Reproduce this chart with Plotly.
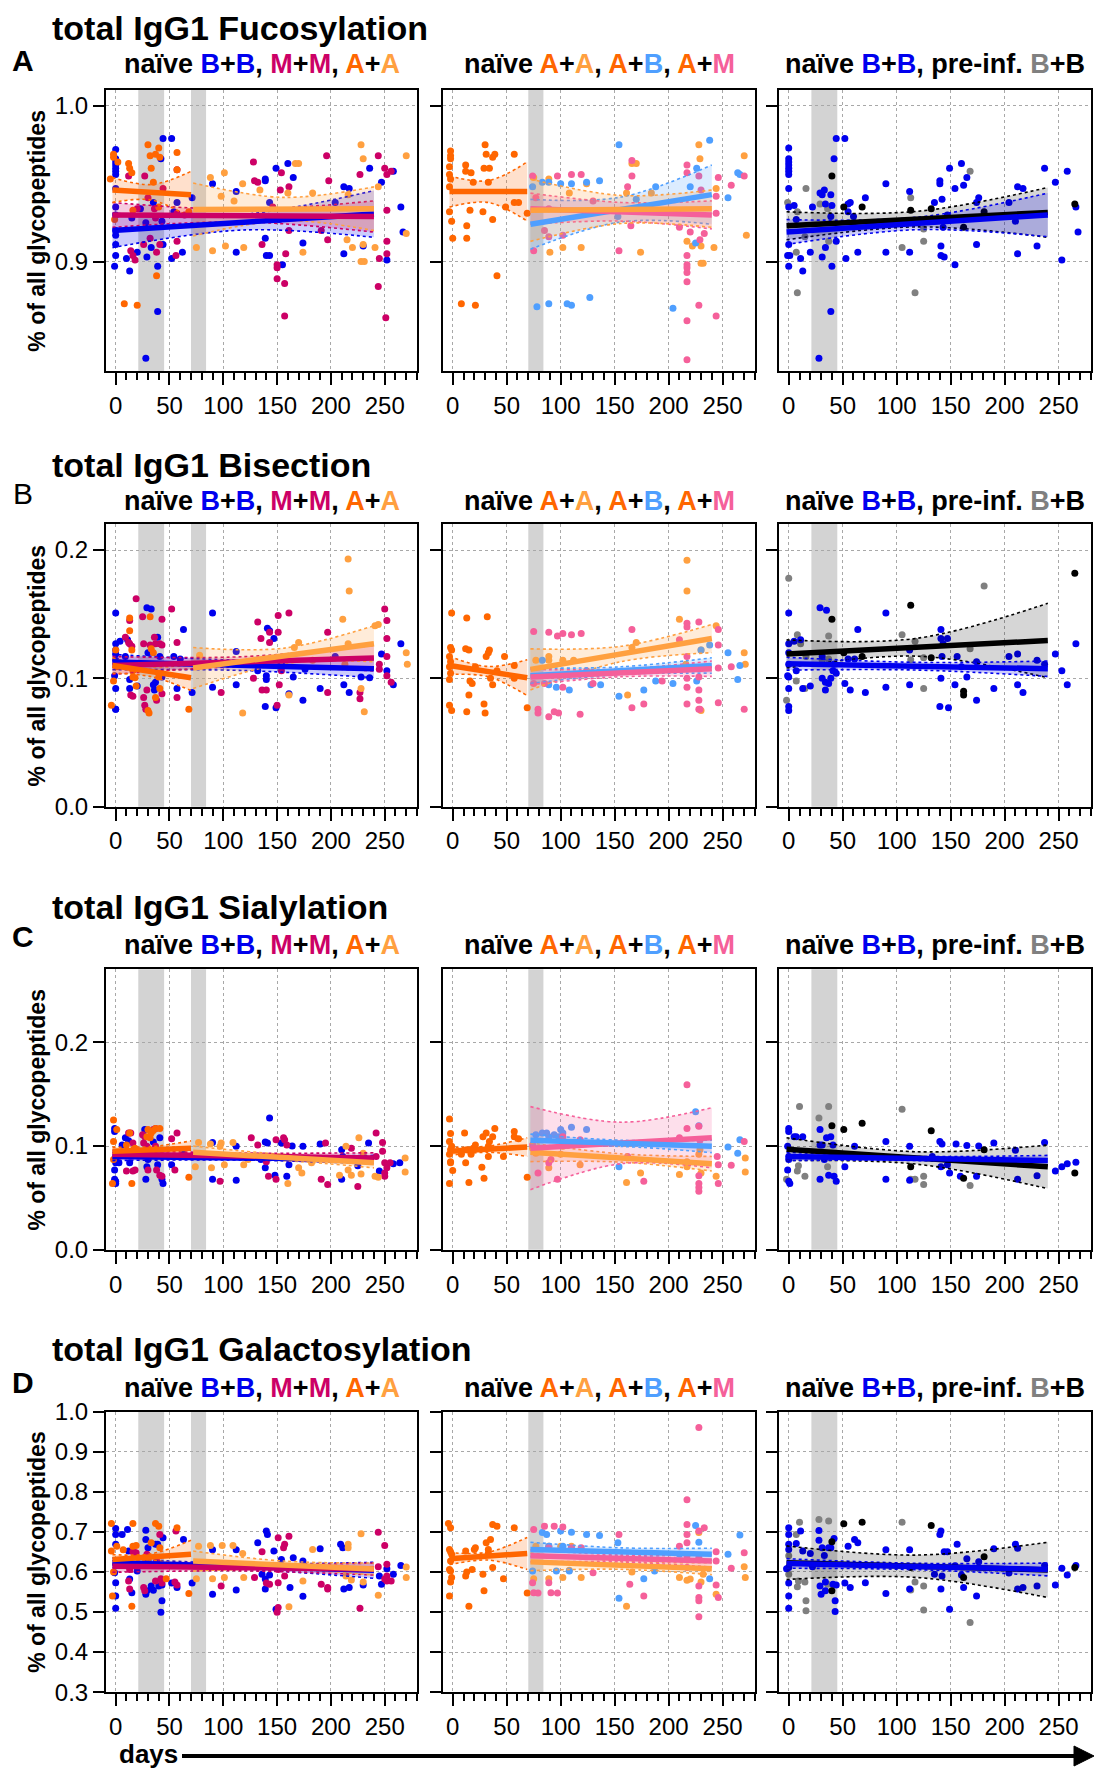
import plotly.graph_objects as go
from plotly.subplots import make_subplots

# ---------------- data: (day, fraction of all glycopeptides) ----------------
# Row A: Fucosylation
A1_BB = [(0,0.972),(0,0.966),(0,0.964),(0,0.962),(0,0.960),(0,0.958),(0,0.956),(0,0.947),(0,0.935),(0,0.930),(0,0.920),(0,0.917),(0,0.911),(0,0.904),(-1,0.897),(13,0.894),(10,0.902),(20,0.906),(28,0.925),(29,0.903),(33,0.909),(39,0.868),(28,0.838),(39,0.897),(42,0.966),(44,0.979),(44,0.911),(52,0.979),(52,0.902),(54,0.932),(62,0.906),(71,0.941),(57,0.938),(43,0.926),(35,0.938),(23,0.934),(15,0.928),(90,0.950),(112,0.945),(112,0.906),(139,0.952),(139,0.953),(143,0.938),(139,0.915),(140,0.904),(143,0.904),(149,0.960),(152,0.927),(155,0.898),(160,0.963),(165,0.954),(174,0.912),(204,0.938),(212,0.905),(212,0.948),(217,0.947),(230,0.910),(236,0.960),(247,0.951),(252,0.901),(258,0.958),(265,0.935),(267,0.919)]
A1_MM = [(12,0.955),(14,0.907),(16,0.904),(18,0.901),(20,0.934),(26,0.911),(27,0.955),(30,0.941),(32,0.915),(36,0.934),(37,0.928),(38,0.906),(41,0.911),(44,0.947),(57,0.913),(57,0.931),(56,0.904),(57,0.959),(64,0.930),(128,0.964),(129,0.952),(132,0.951),(136,0.911),(146,0.935),(150,0.898),(150,0.896),(150,0.889),(153,0.946),(154,0.957),(157,0.886),(157,0.865),(158,0.905),(161,0.948),(161,0.920),(191,0.920),(196,0.968),(198,0.952),(197,0.914),(227,0.956),(244,0.968),(244,0.884),(245,0.902),(252,0.913),(252,0.905),(252,0.933),(250,0.960),(252,0.956),(256,0.958),(251,0.864)]
A1_AA1 = [(-5,0.953),(-2,0.969),(-2,0.967),(-1,0.927),(2,0.964),(8,0.873),(12,0.963),(13,0.960),(15,0.957),(16,0.933),(20,0.872),(30,0.975),(32,0.968),(33,0.960),(35,0.951),(37,0.969),(38,0.891),(40,0.973),(41,0.967),(40,0.935),(57,0.970),(57,0.959),(68,0.932)]
A1_AA2 = [(75,0.909),(88,0.954),(90,0.907),(98,0.942),(101,0.957),(102,0.910),(110,0.939),(118,0.950),(119,0.909),(134,0.946),(160,0.944),(167,0.963),(170,0.963),(174,0.906),(183,0.944),(215,0.914),(220,0.909),(216,0.943),(228,0.975),(228,0.900),(231,0.900),(230,0.911),(230,0.966),(241,0.909),(244,0.948),(270,0.918),(270,0.968)]

A2_AA1 = [(-2,0.971),(-2,0.968),(-2,0.966),(-3,0.961),(-3,0.956),(-2,0.953),(-3,0.948),(-3,0.932),(-1,0.926),(0,0.915),(8,0.873),(12,0.962),(12,0.958),(13,0.923),(13,0.915),(16,0.933),(17,0.957),(19,0.951),(21,0.872),(28,0.932),(29,0.960),(30,0.975),(31,0.969),(33,0.951),(34,0.960),(37,0.927),(37,0.967),(39,0.969),(41,0.891),(49,0.935),(57,0.969),(57,0.938),(61,0.938),(69,0.931)]
A2_AA2 = [(75,0.954),(89,0.953),(90,0.906),(102,0.909),(108,0.944),(119,0.909),(124,0.950),(161,0.944),(166,0.963),(170,0.963),(174,0.906),(184,0.944),(217,0.913),(222,0.910),(228,0.975),(229,0.966),(230,0.910),(230,0.899),(232,0.899),(242,0.909),(244,0.947),(270,0.968),(272,0.917)]
A2_AB = [(74,0.948),(78,0.871),(83,0.951),(89,0.951),(89,0.873),(100,0.950),(106,0.873),(110,0.950),(110,0.872),(124,0.951),(127,0.877),(136,0.952),(154,0.975),(153,0.929),(170,0.940),(188,0.948),(204,0.870),(220,0.948),(226,0.960),(225,0.912),(238,0.978),(255,0.941),(264,0.957),(266,0.956)]
A2_AM = [(74,0.955),(77,0.941),(75,0.907),(85,0.920),(89,0.916),(89,0.934),(97,0.955),(102,0.917),(110,0.956),(119,0.956),(130,0.939),(154,0.907),(162,0.948),(165,0.923),(166,0.965),(166,0.955),(210,0.922),(217,0.962),(217,0.957),(217,0.904),(217,0.898),(217,0.896),(217,0.893),(217,0.887),(217,0.862),(217,0.837),(220,0.919),(228,0.955),(228,0.872),(229,0.914),(230,0.946),(233,0.918),(244,0.942),(244,0.931),(244,0.865),(246,0.954),(258,0.949),(270,0.955)]

A3_BB = [(0,0.973),(0,0.966),(0,0.964),(0,0.962),(0,0.960),(0,0.958),(0,0.956),(0,0.947),(0,0.935),(0,0.911),(-1,0.904),(1,0.904),(0,0.897),(5,0.936),(7,0.927),(11,0.902),(13,0.894),(20,0.906),(22,0.935),(29,0.944),(31,0.943),(33,0.946),(31,0.903),(34,0.937),(34,0.909),(39,0.943),(39,0.929),(40,0.897),(40,0.936),(42,0.966),(44,0.979),(44,0.913),(39,0.868),(28,0.838),(52,0.979),(53,0.902),(55,0.937),(55,0.932),(57,0.938),(60,0.929),(64,0.906),(71,0.941),(90,0.950),(90,0.906),(112,0.945),(112,0.906),(135,0.938),(140,0.952),(140,0.950),(141,0.910),(141,0.904),(142,0.940),(143,0.922),(144,0.903),(147,0.930),(149,0.960),(154,0.947),(154,0.898),(160,0.963),(162,0.949),(165,0.954),(174,0.938),(174,0.911),(176,0.941),(204,0.938),(210,0.926),(212,0.905),(212,0.948),(217,0.947),(230,0.910),(237,0.960),(247,0.951),(253,0.901),(258,0.958),(266,0.935),(268,0.919)]
A3_PRE1 = [(-1,0.938),(8,0.932),(8,0.880),(7,0.906),(16,0.947),(15,0.916),(29,0.937),(36,0.934),(37,0.913),(105,0.909),(113,0.941),(117,0.880),(125,0.921),(125,0.913),(168,0.958)]
A3_PRE2 = [(40,0.955),(51,0.935),(68,0.935),(113,0.933),(132,0.934),(162,0.922),(181,0.932),(265,0.937)]

# Row B: Bisection
B1_BB = [(0,0.151),(0,0.127),(0,0.122),(0,0.119),(0,0.114),(-1,0.102),(0,0.092),(0,0.076),(0,0.076),(4,0.129),(9,0.117),(11,0.130),(13,0.099),(13,0.092),(16,0.109),(20,0.094),(29,0.155),(30,0.120),(33,0.154),(35,0.095),(36,0.091),(37,0.097),(39,0.132),(41,0.117),(43,0.101),(54,0.117),(57,0.092),(60,0.115),(63,0.138),(71,0.089),(90,0.151),(90,0.093),(112,0.095),(112,0.121),(132,0.106),(139,0.078),(140,0.102),(140,0.099),(141,0.139),(143,0.137),(147,0.131),(149,0.077),(154,0.111),(161,0.088),(165,0.101),(174,0.083),(176,0.107),(190,0.092),(204,0.117),(212,0.095),(217,0.089),(228,0.101),(236,0.1005),(247,0.119),(252,0.106),(258,0.095),(265,0.127)]
B1_MM = [(9,0.132),(12,0.128),(13,0.127),(15,0.125),(14,0.087),(16,0.086),(19,0.162),(13,0.145),(25,0.148),(26,0.127),(26,0.085),(27,0.079),(28,0.076),(29,0.091),(32,0.126),(36,0.132),(37,0.127),(38,0.083),(41,0.127),(43,0.126),(43,0.146),(43,0.088),(52,0.154),(57,0.128),(57,0.085),(98,0.089),(128,0.100),(132,0.144),(135,0.131),(136,0.091),(140,0.091),(143,0.136),(143,0.128),(150,0.079),(151,0.149),(151,0.136),(152,0.095),(154,0.106),(161,0.151),(197,0.136),(197,0.089),(227,0.089),(227,0.084),(245,0.111),(245,0.107),(250,0.154),(252,0.145),(252,0.131),(252,0.117),(252,0.102),(256,0.097)]
B1_AA1 = [(-4,0.079),(-2,0.098),(0,0.122),(1,0.109),(2,0.111),(13,0.147),(13,0.137),(15,0.122),(16,0.101),(16,0.106),(18,0.1005),(19,0.094),(30,0.075),(31,0.073),(32,0.148),(33,0.123),(35,0.120),(37,0.085),(40,0.101),(41,0.092),(68,0.076)]
B1_AA2 = [(78,0.118),(118,0.073),(161,0.087),(166,0.124),(170,0.128),(183,0.114),(213,0.111),(216,0.127),(216,0.193),(217,0.168),(211,0.146),(228,0.092),(231,0.074),(241,0.141),(244,0.142),(270,0.120),(271,0.111)]

B2_AA1 = [(-3,0.117),(-2,0.124),(-1,0.122),(-2,0.113),(-3,0.109),(-2,0.104),(-3,0.099),(-3,0.079),(-1,0.075),(-1,0.151),(12,0.123),(13,0.147),(13,0.074),(15,0.122),(16,0.098),(18,0.096),(15,0.087),(21,0.109),(29,0.080),(30,0.073),(31,0.117),(32,0.148),(33,0.120),(34,0.122),(35,0.100),(37,0.095),(41,0.106),(48,0.117),(57,0.100),(57,0.110),(69,0.077)]
B2_AA2 = [(77,0.114),(89,0.117),(89,0.114),(102,0.114),(112,0.114),(162,0.087),(166,0.124),(170,0.128),(210,0.146),(217,0.192),(217,0.168),(216,0.111),(230,0.075),(230,0.122),(244,0.141),(270,0.120),(271,0.111)]
B2_AB = [(83,0.114),(89,0.095),(96,0.093),(108,0.091),(128,0.095),(137,0.095),(154,0.086),(177,0.091),(188,0.098),(204,0.096),(226,0.098),(230,0.122),(238,0.126),(255,0.120),(264,0.099),(266,0.110)]
B2_AM = [(75,0.1365),(89,0.136),(97,0.133),(102,0.135),(110,0.134),(119,0.135),(79,0.076),(79,0.073),(89,0.070),(94,0.074),(98,0.073),(118,0.072),(75,0.096),(85,0.096),(102,0.093),(130,0.096),(166,0.138),(166,0.077),(177,0.080),(194,0.098),(210,0.130),(217,0.143),(217,0.140),(217,0.117),(217,0.100),(217,0.093),(217,0.080),(228,0.144),(228,0.101),(228,0.091),(228,0.083),(228,0.076),(229,0.076),(246,0.138),(246,0.126),(246,0.108),(246,0.081),(258,0.109),(270,0.076),(124,0.106)]

B3_BB = [(0,0.151),(0,0.127),(0,0.120),(0,0.111),(0,0.101),(-1,0.102),(0,0.092),(0,0.078),(0,0.075),(5,0.129),(7,0.106),(11,0.130),(13,0.092),(20,0.094),(29,0.155),(31,0.117),(31,0.100),(35,0.153),(34,0.097),(34,0.091),(37,0.096),(39,0.100),(41,0.106),(42,0.111),(44,0.104),(52,0.096),(55,0.115),(57,0.091),(61,0.115),(64,0.138),(71,0.089),(90,0.151),(90,0.093),(112,0.122),(112,0.095),(140,0.078),(141,0.131),(141,0.100),(141,0.138),(143,0.127),(142,0.117),(147,0.131),(148,0.077),(154,0.095),(156,0.117),(160,0.109),(165,0.101),(174,0.083),(174,0.113),(190,0.092),(204,0.117),(212,0.119),(212,0.095),(217,0.089),(230,0.114),(237,0.111),(247,0.119),(253,0.106),(258,0.095),(266,0.127)]
B3_PRE1 = [(0,0.178),(-2,0.083),(8,0.134),(11,0.127),(7,0.098),(15,0.092),(16,0.117),(31,0.114),(37,0.133),(37,0.115),(105,0.134),(113,0.1145),(117,0.129),(125,0.116),(125,0.092),(168,0.123),(181,0.172)]
B3_PRE2 = [(40,0.146),(51,0.120),(68,0.117),(113,0.157),(132,0.116),(162,0.090),(162,0.087),(265,0.182)]

# Row C: Sialylation
C1_BB = [(-1,0.117),(-1,0.114),(0,0.087),(0,0.084),(-1,0.077),(-1,0.068),(0,0.066),(0,0.064),(3,0.084),(6,0.101),(9,0.108),(12,0.105),(13,0.084),(27,0.116),(28,0.068),(29,0.080),(30,0.087),(35,0.104),(39,0.082),(41,0.108),(43,0.068),(44,0.064),(52,0.082),(63,0.092),(90,0.1035),(90,0.068),(112,0.067),(112,0.0997),(135,0.087),(139,0.104),(139,0.079),(141,0.103),(143,0.127),(148,0.072),(154,0.103),(159,0.071),(161,0.082),(164,0.100),(174,0.0997),(190,0.102),(210,0.0965),(210,0.068),(211,0.090),(225,0.081),(235,0.103),(245,0.076),(258,0.083),(264,0.084)]
C1_MM = [(12,0.1125),(14,0.1125),(16,0.103),(10,0.076),(16,0.076),(18,0.077),(25,0.111),(26,0.103),(27,0.109),(29,0.0997),(30,0.077),(35,0.116),(37,0.117),(37,0.0997),(38,0.077),(41,0.072),(43,0.071),(52,0.107),(57,0.1125),(55,0.077),(97,0.066),(126,0.108),(132,0.101),(140,0.085),(142,0.071),(149,0.106),(149,0.068),(156,0.108),(157,0.106),(159,0.101),(197,0.063),(191,0.068),(195,0.103),(219,0.098),(225,0.061),(242,0.1125),(242,0.090),(248,0.1035),(248,0.095),(250,0.084),(250,0.074),(252,0.079),(255,0.084),(250,0.071)]
C1_AA1 = [(-2,0.125),(-2,0.1045),(-2,0.087),(-3,0.064),(1,0.116),(10,0.101),(13,0.1125),(15,0.064),(18,0.098),(29,0.109),(30,0.116),(32,0.108),(33,0.1125),(35,0.115),(37,0.117),(41,0.117),(68,0.070)]
C1_AA2 = [(74,0.080),(77,0.1035),(88,0.102),(89,0.079),(97,0.0997),(98,0.103),(101,0.082),(109,0.1035),(119,0.082),(123,0.087),(160,0.064),(170,0.079),(173,0.074),(182,0.084),(208,0.072),(214,0.0997),(216,0.077),(219,0.072),(226,0.108),(228,0.073),(230,0.093),(241,0.071),(244,0.070),(269,0.0885),(269,0.075)]

C2_AA1 = [(-3,0.126),(-2,0.112),(-3,0.1045),(-1,0.0997),(-2,0.0965),(-3,0.092),(-2,0.085),(-2,0.084),(0,0.0765),(-3,0.064),(8,0.092),(11,0.1125),(12,0.084),(13,0.0965),(15,0.065),(17,0.092),(19,0.098),(21,0.101),(27,0.0795),(28,0.109),(29,0.069),(31,0.1125),(33,0.090),(33,0.0997),(34,0.1045),(37,0.109),(39,0.117),(47,0.090),(57,0.114),(57,0.109),(61,0.107),(69,0.070)]
C2_AA2 = [(74,0.098),(77,0.093),(89,0.079),(100,0.092),(102,0.0997),(118,0.082),(161,0.065),(174,0.074),(210,0.0725),(217,0.085),(217,0.080),(228,0.092),(229,0.0965),(230,0.074),(244,0.071),(271,0.0885),(271,0.075)]
C2_AB = [(77,0.111),(83,0.1125),(87,0.1125),(89,0.109),(94,0.111),(98,0.109),(100,0.116),(102,0.1125),(110,0.118),(124,0.116),(154,0.080),(225,0.133),(228,0.1195),(255,0.099),(264,0.093),(266,0.106)]
C2_AM = [(74,0.101),(79,0.074),(89,0.084),(91,0.087),(97,0.068),(102,0.109),(118,0.106),(134,0.103),(162,0.090),(177,0.066),(210,0.108),(217,0.159),(217,0.117),(228,0.119),(228,0.0715),(228,0.064),(228,0.060),(228,0.0565),(229,0.1055),(245,0.090),(246,0.082),(246,0.064),(258,0.0815),(270,0.1045)]

C3_BB = [(0,0.117),(0,0.114),(-1,0.0997),(0,0.090),(0,0.087),(-1,0.077),(0,0.066),(1,0.064),(5,0.109),(7,0.109),(13,0.109),(29,0.116),(29,0.101),(29,0.068),(31,0.101),(33,0.087),(35,0.108),(37,0.072),(39,0.109),(41,0.101),(42,0.071),(44,0.066),(52,0.080),(61,0.0997),(90,0.1045),(90,0.068),(112,0.0997),(112,0.067),(133,0.090),(140,0.1045),(141,0.080),(142,0.102),(147,0.082),(149,0.074),(155,0.102),(159,0.071),(165,0.1006),(174,0.071),(176,0.100),(190,0.103),(210,0.096),(212,0.068),(230,0.0715),(237,0.1035),(247,0.076),(253,0.080),(258,0.083),(266,0.0843)]
C3_PRE1 = [(-2,0.068),(10,0.138),(8,0.076),(9,0.081),(15,0.071),(28,0.127),(36,0.080),(37,0.138),(105,0.1355),(113,0.068),(117,0.068),(125,0.071),(125,0.063),(168,0.062)]
C3_PRE2 = [(40,0.1195),(51,0.116),(68,0.122),(113,0.080),(132,0.1147),(162,0.069),(181,0.0965),(265,0.074)]

# Row D: Galactosylation
D1_BB = [(0,0.708),(0,0.693),(0,0.669),(0,0.619),(-1,0.598),(0,0.573),(0,0.540),(0,0.509),(6,0.693),(11,0.706),(12,0.652),(13,0.582),(15,0.548),(20,0.602),(28,0.704),(28,0.681),(28,0.544),(29,0.553),(30,0.660),(33,0.565),(35,0.554),(37,0.669),(39,0.669),(40,0.565),(42,0.499),(43,0.567),(43,0.528),(44,0.685),(52,0.572),(57,0.561),(63,0.681),(71,0.572),(90,0.655),(90,0.544),(112,0.555),(112,0.655),(132,0.673),(136,0.594),(139,0.557),(139,0.582),(141,0.693),(140,0.702),(143,0.592),(147,0.652),(149,0.507),(154,0.631),(162,0.561),(165,0.635),(174,0.539),(174,0.627),(190,0.658),(209,0.669),(211,0.660),(212,0.557),(217,0.561),(230,0.567),(245,0.590),(247,0.569),(252,0.608),(258,0.594),(265,0.616)]
D1_MM = [(12,0.577),(13,0.606),(13,0.557),(16,0.650),(18,0.648),(19,0.648),(26,0.561),(27,0.553),(29,0.644),(37,0.577),(38,0.627),(41,0.693),(43,0.572),(42,0.583),(56,0.702),(57,0.567),(55,0.575),(98,0.565),(129,0.586),(136,0.650),(140,0.572),(143,0.569),(151,0.685),(151,0.606),(151,0.573),(151,0.511),(150,0.499),(156,0.660),(157,0.669),(157,0.590),(161,0.689),(191,0.569),(197,0.561),(197,0.557),(227,0.509),(244,0.699),(244,0.613),(250,0.666),(252,0.619),(252,0.590),(252,0.577),(256,0.577),(250,0.582)]
D1_AA1 = [(-4,0.721),(-4,0.652),(-3,0.540),(-2,0.600),(1,0.664),(7,0.655),(15,0.514),(16,0.721),(16,0.664),(19,0.666),(29,0.619),(30,0.627),(33,0.673),(37,0.721),(40,0.714),(41,0.660),(47,0.583),(57,0.710),(68,0.546)]
D1_AA2 = [(75,0.583),(77,0.664),(90,0.583),(88,0.666),(99,0.666),(101,0.586),(109,0.666),(119,0.586),(118,0.646),(161,0.513),(174,0.577),(183,0.656),(216,0.669),(216,0.660),(214,0.590),(219,0.580),(228,0.695),(230,0.575),(244,0.542),(270,0.612),(270,0.586)]

D2_AA1 = [(-4,0.721),(-2,0.710),(-3,0.656),(-2,0.650),(-1,0.644),(-2,0.627),(-3,0.606),(-2,0.602),(-1,0.586),(-2,0.575),(-3,0.540),(12,0.652),(13,0.600),(12,0.590),(15,0.514),(18,0.606),(20,0.656),(21,0.660),(28,0.594),(29,0.553),(31,0.673),(33,0.646),(33,0.656),(35,0.681),(37,0.611),(37,0.718),(41,0.714),(47,0.583),(57,0.710),(69,0.547)]
D2_AA2 = [(75,0.583),(77,0.664),(89,0.664),(89,0.583),(100,0.664),(102,0.586),(108,0.604),(110,0.664),(119,0.586),(166,0.600),(161,0.514),(210,0.586),(217,0.579),(220,0.582),(228,0.698),(230,0.575),(232,0.594),(244,0.544),(270,0.613),(271,0.586)]
D2_AB = [(74,0.602),(83,0.698),(87,0.693),(89,0.664),(96,0.602),(100,0.702),(102,0.664),(108,0.602),(110,0.699),(124,0.693),(136,0.691),(153,0.673),(154,0.534),(177,0.583),(187,0.602),(210,0.644),(225,0.716),(228,0.674),(238,0.583),(255,0.644),(266,0.692)]
D2_AM = [(75,0.706),(74,0.573),(75,0.548),(79,0.547),(85,0.714),(89,0.573),(89,0.660),(91,0.548),(94,0.714),(97,0.547),(102,0.712),(110,0.660),(119,0.660),(130,0.598),(154,0.693),(164,0.569),(177,0.540),(210,0.664),(217,0.780),(217,0.718),(217,0.693),(217,0.673),(217,0.640),(217,0.611),(228,0.702),(228,0.635),(228,0.565),(228,0.536),(228,0.528),(228,0.488),(228,0.960),(233,0.710),(244,0.650),(244,0.627),(244,0.567),(246,0.536),(258,0.609),(270,0.648)]

D3_BB = [(0,0.710),(0,0.693),(0,0.669),(0,0.656),(0,0.611),(-2,0.608),(0,0.572),(0,0.540),(0,0.509),(7,0.671),(11,0.702),(13,0.652),(20,0.646),(22,0.613),(28,0.703),(28,0.679),(29,0.565),(30,0.544),(31,0.660),(33,0.641),(34,0.575),(34,0.553),(37,0.660),(39,0.660),(41,0.569),(42,0.683),(43,0.528),(44,0.567),(43,0.501),(52,0.572),(55,0.664),(57,0.561),(61,0.681),(64,0.673),(71,0.573),(90,0.655),(90,0.546),(112,0.655),(112,0.557),(135,0.594),(140,0.693),(141,0.702),(141,0.557),(142,0.590),(144,0.650),(147,0.650),(149,0.507),(154,0.615),(156,0.669),(160,0.592),(162,0.561),(165,0.633),(174,0.540),(176,0.625),(190,0.658),(204,0.597),(210,0.669),(212,0.557),(212,0.659),(217,0.561),(230,0.565),(237,0.616),(247,0.567),(253,0.609),(258,0.592),(266,0.616)]
D3_PRE1 = [(0,0.640),(0,0.594),(7,0.693),(8,0.563),(10,0.724),(9,0.577),(15,0.575),(16,0.528),(16,0.503),(28,0.731),(36,0.569),(37,0.727),(105,0.724),(113,0.555),(117,0.575),(125,0.565),(125,0.505),(168,0.474)]
D3_PRE2 = [(40,0.675),(40,0.553),(51,0.720),(68,0.724),(113,0.611),(132,0.716),(162,0.586),(181,0.638),(265,0.611)]

# Linear fits: [day_start, day_end, value_start, value_end, CI half-width start, middle, end]
A1_FIT_AA1 = [-3, 70, 0.946, 0.943, 0.008, 0.005, 0.015]
A1_FIT_AA2 = [72, 240, 0.9335, 0.934, 0.017, 0.0075, 0.014]
A1_FIT_MM = [-3, 240, 0.930, 0.929, 0.008, 0.004, 0.010]
A1_FIT_BB = [-3, 240, 0.920, 0.9306, 0.011, 0.005, 0.015]
A2_FIT_AA1 = [-3, 69, 0.945, 0.945, 0.010, 0.007, 0.019]
A2_FIT_AA2 = [72, 240, 0.933, 0.934, 0.020, 0.009, 0.012]
A2_FIT_AB = [72, 240, 0.924, 0.943, 0.016, 0.008, 0.019]
A2_FIT_AM = [72, 240, 0.934, 0.930, 0.010, 0.006, 0.009]
A3_FIT_PRE = [-2, 240, 0.923, 0.9316, 0.009, 0.005, 0.016]
A3_FIT_BB = [-2, 240, 0.919, 0.930, 0.008, 0.004, 0.014]

B1_FIT_AA1 = [-3, 70, 0.110, 0.1005, 0.006, 0.004, 0.010]
B1_FIT_AA2 = [72, 240, 0.108, 0.127, 0.016, 0.006, 0.014]
B1_FIT_MM = [-3, 240, 0.110, 0.1158, 0.007, 0.004, 0.010]
B1_FIT_BB = [-3, 240, 0.1127, 0.1075, 0.006, 0.004, 0.007]
B2_FIT_AA1 = [-3, 69, 0.110, 0.1005, 0.007, 0.004, 0.014]
B2_FIT_AA2 = [72, 240, 0.107, 0.131, 0.016, 0.006, 0.011]
B2_FIT_AB = [72, 240, 0.102, 0.110, 0.006, 0.003, 0.006]
B2_FIT_AM = [72, 240, 0.101, 0.1075, 0.006, 0.003, 0.006]
B3_FIT_PRE = [-2, 240, 0.119, 0.1295, 0.011, 0.007, 0.029]
B3_FIT_BB = [-2, 240, 0.1114, 0.1075, 0.005, 0.003, 0.006]

C1_FIT_AA1 = [-3, 70, 0.095, 0.098, 0.004, 0.003, 0.007]
C1_FIT_AA2 = [72, 240, 0.094, 0.084, 0.006, 0.003, 0.005]
C1_FIT_MM = [-3, 240, 0.092, 0.0885, 0.004, 0.003, 0.005]
C1_FIT_BB = [-3, 240, 0.090, 0.087, 0.004, 0.002, 0.004]
C2_FIT_AA1 = [-3, 69, 0.095, 0.099, 0.004, 0.003, 0.009]
C2_FIT_AA2 = [72, 240, 0.094, 0.083, 0.009, 0.004, 0.007]
C2_FIT_AB = [72, 240, 0.1055, 0.0997, 0.006, 0.003, 0.006]
C2_FIT_AM = [72, 240, 0.098, 0.108, 0.040, 0.020, 0.029]
C3_FIT_PRE = [-2, 240, 0.097, 0.080, 0.011, 0.006, 0.021]
C3_FIT_BB = [-2, 240, 0.090, 0.086, 0.004, 0.002, 0.005]

D1_FIT_AA1 = [-3, 70, 0.631, 0.644, 0.012, 0.008, 0.035]
D1_FIT_AA2 = [72, 240, 0.627, 0.607, 0.025, 0.010, 0.015]
D1_FIT_MM = [-3, 240, 0.614, 0.607, 0.015, 0.008, 0.015]
D1_FIT_BB = [-3, 240, 0.623, 0.604, 0.012, 0.007, 0.020]
D2_FIT_AA1 = [-3, 69, 0.633, 0.646, 0.015, 0.010, 0.040]
D2_FIT_AA2 = [72, 240, 0.625, 0.608, 0.022, 0.010, 0.015]
D2_FIT_AB = [72, 240, 0.656, 0.644, 0.018, 0.010, 0.015]
D2_FIT_AM = [72, 240, 0.640, 0.627, 0.015, 0.009, 0.015]
D3_FIT_PRE = [-2, 240, 0.623, 0.605, 0.042, 0.028, 0.069]
D3_FIT_BB = [-2, 240, 0.621, 0.606, 0.012, 0.008, 0.016]

# vaccination windows (days)
WIN_COL1 = [(21, 45), (70, 84)]
WIN_COL2 = [(70, 84)]
WIN_COL3 = [(21, 45)]

ROW_TITLES = ["total IgG1 Fucosylation", "total IgG1 Bisection", "total IgG1 Sialylation", "total IgG1 Galactosylation"]
ROW_LETTERS = ["A", "B", "C", "D"]
Y_RANGES = [[0.8295, 1.0103], [0, 0.2202], [0, 0.2702], [0.3, 1.0]]
Y_TICKS = [[0.9, 1.0], [0.0, 0.1, 0.2], [0.0, 0.1, 0.2], [0.3, 0.4, 0.5, 0.6, 0.7, 0.8, 0.9, 1.0]]
X_TICKS = [0, 50, 100, 150, 200, 250]

# ---------------- styles ----------------
BLUE = "#0000EE"; MAG = "#CC0066"; ORG1 = "#FF6600"; ORG2 = "#FFA040"
LBLUE = "#4F9FFF"; PINK = "#F5609A"; GRAY = "#808080"; BLACK = "#000000"
FONT = "Liberation Sans, Arial, Helvetica, sans-serif"
W, H = 1095, 1770
# the rendered plot area is slightly shorter than the page; map target pixel rows to paper coords
TOP_OFF, EFF_H = 12.0, 1746.0

def px_x(px):
    return px / W

def px_y(py):
    return 1 - (py - TOP_OFF) / EFF_H

def rgba(hexc, a):
    h = hexc.lstrip("#")
    return "rgba(%d,%d,%d,%s)" % (int(h[0:2], 16), int(h[2:4], 16), int(h[4:6], 16), a)

COL_PX = [(106, 417), (443, 755), (779, 1091)]
ROW_PX = [(88, 370), (523, 806), (969, 1250), (1412, 1693)]

fig = make_subplots(rows=4, cols=3)

panels = {
    (0, 0): ([(A1_BB, BLUE), (A1_MM, MAG), (A1_AA1, ORG1), (A1_AA2, ORG2)],
             [(A1_FIT_BB, BLUE), (A1_FIT_MM, MAG), (A1_FIT_AA1, ORG1), (A1_FIT_AA2, ORG2)]),
    (0, 1): ([(A2_AA1, ORG1), (A2_AA2, ORG2), (A2_AB, LBLUE), (A2_AM, PINK)],
             [(A2_FIT_AA1, ORG1), (A2_FIT_AB, LBLUE), (A2_FIT_AM, PINK), (A2_FIT_AA2, ORG2)]),
    (0, 2): ([(A3_PRE1, GRAY), (A3_BB, BLUE), (A3_PRE2, BLACK)],
             [(A3_FIT_PRE, BLACK), (A3_FIT_BB, BLUE)]),
    (1, 0): ([(B1_BB, BLUE), (B1_MM, MAG), (B1_AA1, ORG1), (B1_AA2, ORG2)],
             [(B1_FIT_BB, BLUE), (B1_FIT_MM, MAG), (B1_FIT_AA1, ORG1), (B1_FIT_AA2, ORG2)]),
    (1, 1): ([(B2_AA1, ORG1), (B2_AA2, ORG2), (B2_AB, LBLUE), (B2_AM, PINK)],
             [(B2_FIT_AA1, ORG1), (B2_FIT_AA2, ORG2), (B2_FIT_AB, LBLUE), (B2_FIT_AM, PINK)]),
    (1, 2): ([(B3_PRE1, GRAY), (B3_BB, BLUE), (B3_PRE2, BLACK)],
             [(B3_FIT_PRE, BLACK), (B3_FIT_BB, BLUE)]),
    (2, 0): ([(C1_BB, BLUE), (C1_MM, MAG), (C1_AA1, ORG1), (C1_AA2, ORG2)],
             [(C1_FIT_BB, BLUE), (C1_FIT_MM, MAG), (C1_FIT_AA1, ORG1), (C1_FIT_AA2, ORG2)]),
    (2, 1): ([(C2_AA1, ORG1), (C2_AA2, ORG2), (C2_AB, LBLUE), (C2_AM, PINK)],
             [(C2_FIT_AA1, ORG1), (C2_FIT_AA2, ORG2), (C2_FIT_AM, PINK), (C2_FIT_AB, LBLUE)]),
    (2, 2): ([(C3_PRE1, GRAY), (C3_BB, BLUE), (C3_PRE2, BLACK)],
             [(C3_FIT_PRE, BLACK), (C3_FIT_BB, BLUE)]),
    (3, 0): ([(D1_BB, BLUE), (D1_MM, MAG), (D1_AA1, ORG1), (D1_AA2, ORG2)],
             [(D1_FIT_BB, BLUE), (D1_FIT_MM, MAG), (D1_FIT_AA1, ORG1), (D1_FIT_AA2, ORG2)]),
    (3, 1): ([(D2_AA1, ORG1), (D2_AA2, ORG2), (D2_AB, LBLUE), (D2_AM, PINK)],
             [(D2_FIT_AA1, ORG1), (D2_FIT_AA2, ORG2), (D2_FIT_AB, LBLUE), (D2_FIT_AM, PINK)]),
    (3, 2): ([(D3_PRE1, GRAY), (D3_BB, BLUE), (D3_PRE2, BLACK)],
             [(D3_FIT_PRE, BLACK), (D3_FIT_BB, BLUE)]),
}
windows = [WIN_COL1, WIN_COL2, WIN_COL3]

for (ri, ci), (series, fits) in panels.items():
    r, c = ri + 1, ci + 1
    for pts, col in series:
        fig.add_trace(go.Scatter(x=[p[0] for p in pts], y=[p[1] for p in pts], mode="markers",
                                 marker=dict(color=col, size=7, line=dict(width=0)),
                                 showlegend=False, hoverinfo="skip"), row=r, col=c)
    for fit, col in fits:
        x0, x1, y0, y1, w0, wm, w1 = fit
        xm, ym = (x0 + x1) / 2, (y0 + y1) / 2
        bx = [x0, xm, x1]
        fa = 0.16 if col == BLACK else 0.2
        fig.add_trace(go.Scatter(x=bx, y=[y0 + w0, ym + wm, y1 + w1], mode="lines",
                                 line=dict(color=col, width=1.6, dash="dot", shape="spline"),
                                 showlegend=False, hoverinfo="skip"), row=r, col=c)
        fig.add_trace(go.Scatter(x=bx, y=[y0 - w0, ym - wm, y1 - w1], mode="lines", fill="tonexty",
                                 fillcolor=rgba(col, fa),
                                 line=dict(color=col, width=1.6, dash="dot", shape="spline"),
                                 showlegend=False, hoverinfo="skip"), row=r, col=c)
    for fit, col in fits:
        x0, x1, y0, y1 = fit[:4]
        fig.add_trace(go.Scatter(x=[x0, x1], y=[y0, y1], mode="lines",
                                 line=dict(color=col, width=5.5),
                                 showlegend=False, hoverinfo="skip"), row=r, col=c)
    n = ri * 3 + ci + 1
    sfx = "" if n == 1 else str(n)
    for (a, b) in windows[ci]:
        fig.add_shape(type="rect", xref="x" + sfx, yref="y" + sfx + " domain", x0=a, x1=b, y0=0, y1=1,
                      fillcolor="#D3D3D3", line=dict(width=0), layer="below")
    fig.update_xaxes(domain=[px_x(COL_PX[ci][0]), px_x(COL_PX[ci][1])], range=[-9, 280],
                     tickmode="array", tickvals=X_TICKS, ticks="outside", ticklen=12, tickwidth=2,
                     tickcolor="black", showline=True, linecolor="black", linewidth=2, mirror=True,
                     showgrid=True, gridcolor="#A8A8A8", griddash="dot", gridwidth=1, zeroline=False,
                     tickfont=dict(family=FONT, size=24, color="black"),
                     minor=dict(dtick=10, tick0=0, ticks="outside", ticklen=7, tickwidth=2,
                                tickcolor="black", showgrid=False),
                     row=r, col=c)
    fig.update_yaxes(domain=[px_y(ROW_PX[ri][1]), px_y(ROW_PX[ri][0])], range=Y_RANGES[ri],
                     tickmode="array", tickvals=Y_TICKS[ri], tickformat=".1f",
                     ticks="outside", ticklen=11, tickwidth=2, tickcolor="black",
                     showticklabels=(ci == 0),
                     showline=True, linecolor="black", linewidth=2, mirror=True,
                     showgrid=True, gridcolor="#A8A8A8", griddash="dot", gridwidth=1, zeroline=False,
                     tickfont=dict(family=FONT, size=24, color="black"),
                     row=r, col=c)

def sp(txt, col):
    return "<span style='color:%s'>%s</span>" % (col, txt)

SUBTITLES = [
    "naïve " + sp("B", BLUE) + "+" + sp("B", BLUE) + ", " + sp("M", MAG) + "+" + sp("M", MAG) + ", " + sp("A", ORG1) + "+" + sp("A", ORG2),
    "naïve " + sp("A", ORG1) + "+" + sp("A", ORG2) + ", " + sp("A", ORG1) + "+" + sp("B", LBLUE) + ", " + sp("A", ORG1) + "+" + sp("M", PINK),
    "naïve " + sp("B", BLUE) + "+" + sp("B", BLUE) + ", pre-inf. " + sp("B", GRAY) + "+B",
]
TITLE_Y = [26, 464, 907, 1349]
LETTER_Y = [59, 492, 936, 1383]
SUB_Y = [62, 500, 945, 1388]

ann = []
for ri in range(4):
    ann.append(dict(text="<b>%s</b>" % ROW_TITLES[ri], x=px_x(50), y=px_y(TITLE_Y[ri]), xref="paper", yref="paper",
                    xanchor="left", yanchor="middle", showarrow=False,
                    font=dict(family=FONT, size=34, color="black")))
    lt = ROW_LETTERS[ri] if ri == 1 else "<b>%s</b>" % ROW_LETTERS[ri]
    ann.append(dict(text=lt, x=px_x(23), y=px_y(LETTER_Y[ri]), xref="paper", yref="paper",
                    xanchor="center", yanchor="middle", showarrow=False,
                    font=dict(family=FONT, size=30, color="black")))
    for ci in range(3):
        cx = (COL_PX[ci][0] + COL_PX[ci][1]) / 2
        ann.append(dict(text="<b>%s</b>" % SUBTITLES[ci], x=px_x(cx), y=px_y(SUB_Y[ri]), xref="paper", yref="paper",
                        xanchor="center", yanchor="middle", showarrow=False,
                        font=dict(family=FONT, size=27, color="black")))
    cy = (ROW_PX[ri][0] + ROW_PX[ri][1]) / 2
    ann.append(dict(text="<b>% of all glycopeptides</b>", x=px_x(37), y=px_y(cy), xref="paper", yref="paper",
                    xanchor="center", yanchor="middle", textangle=-90, showarrow=False,
                    font=dict(family=FONT, size=23, color="black")))

ann.append(dict(text="<b>days</b>", x=px_x(149), y=px_y(1755), xref="paper", yref="paper",
                xanchor="center", yanchor="middle", showarrow=False,
                font=dict(family=FONT, size=26, color="black")))

shapes_extra = [
    dict(type="line", xref="paper", yref="paper", x0=px_x(182), x1=px_x(1078), y0=px_y(1757), y1=px_y(1757),
         line=dict(color="black", width=4)),
    dict(type="path", xref="paper", yref="paper",
         path="M %f %f L %f %f L %f %f Z" % (px_x(1074), px_y(1747), px_x(1094), px_y(1757), px_x(1074), px_y(1767)),
         fillcolor="black", line=dict(color="black", width=1)),
]
for s in shapes_extra:
    fig.add_shape(**s)

fig.update_layout(width=W, height=H, margin=dict(l=0, r=0, t=0, b=0),
                  paper_bgcolor="white", plot_bgcolor="white", showlegend=False,
                  annotations=ann, font=dict(family=FONT, color="black"))

POST = ("document.documentElement.style.margin='0px';document.documentElement.style.padding='0px';"
        "document.body.style.margin='0px';document.body.style.padding='0px';"
        "document.documentElement.style.overflow='hidden';document.body.style.overflow='hidden';"
        "var g=document.getElementById('{plot_id}');"
        "g.style.position='absolute';g.style.left='0px';g.style.top='0px';")

fig.write_html("out.html", config={"displayModeBar": False}, post_script=POST)
